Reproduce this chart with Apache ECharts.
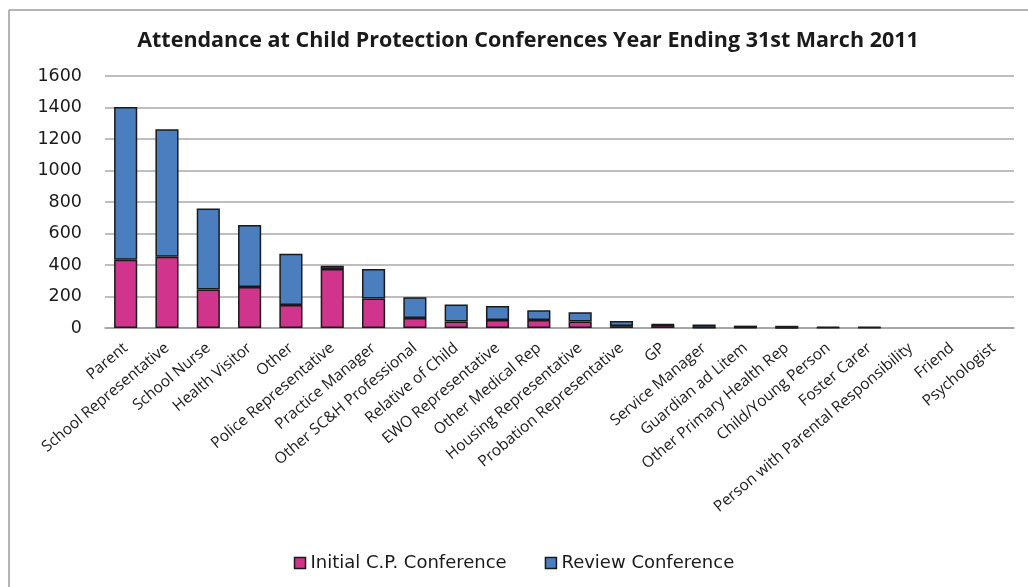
<!DOCTYPE html>
<html>
<head>
<meta charset="utf-8">
<script src="https://cdn.jsdelivr.net/npm/echarts@6/dist/echarts.min.js"></script>
<style>
  html, body { margin: 0; padding: 0; background: #fff; }
  #chart { width: 1028px; height: 587px; }
</style>
</head>
<body>
<div id="chart"></div>
<script>
// Attendee roles, ordered by total attendance
const categories = [
  'Parent', 'School Representative', 'School Nurse', 'Health Visitor', 'Other',
  'Police Representative', 'Practice Manager', 'Other SC&H Professional',
  'Relative of Child', 'EWO Representative', 'Other Medical Rep',
  'Housing Representative', 'Probation Representative', 'GP', 'Service Manager',
  'Guardian ad Litem', 'Other Primary Health Rep', 'Child/Young Person',
  'Foster Carer', 'Person with Parental Responsibility', 'Friend', 'Psychologist'
];

// Attendance at initial child protection conferences
const initialConference = [434, 453, 244, 260, 146, 375, 187, 63, 41, 51, 51, 41, 12, 20, 2, 2, 1, 2, 2, 0, 0, 0];

// Attendance at review conferences
const reviewConference = [969, 809, 514, 394, 326, 21, 188, 132, 108, 89, 61, 59, 32, 3, 20, 13, 13, 6, 4, 0, 0, 0];

const yTicks = { min: 0, max: 1600, interval: 200 };

const chart = echarts.init(document.getElementById('chart'), null, { renderer: 'canvas' });

const edge = '#1a1a1a';

// Empty segments get no outline so nothing is drawn for them
function withOutline(values) {
  return values.map(v => v === 0 ? { value: 0, itemStyle: { borderWidth: 0 } } : v);
}

chart.setOption({
  animation: false,
  backgroundColor: '#ffffff',
  title: {
    text: 'Attendance at Child Protection Conferences Year Ending 31st March 2011',
    left: 523,
    textAlign: 'center',
    top: 25,
    textStyle: { fontFamily: 'Open Sans', fontWeight: 'bold', fontSize: 21.5, color: '#1a1a1a' }
  },
  legend: {
    bottom: 10,
    left: 'center',
    itemGap: 38,
    itemWidth: 11,
    itemHeight: 11,
    icon: 'rect',
    textStyle: { fontFamily: 'DejaVu Sans', fontSize: 18, color: '#1a1a1a' },
    data: [
      { name: 'Initial C.P. Conference', itemStyle: { borderColor: edge, borderWidth: 1.5 } },
      { name: 'Review Conference', itemStyle: { borderColor: edge, borderWidth: 1.5 } }
    ]
  },
  grid: { left: 105, right: 14, top: 76, bottom: 259, containLabel: false },
  xAxis: {
    type: 'category',
    data: categories,
    axisLine: { lineStyle: { color: '#a0a0a0', width: 1.5 } },
    axisTick: { show: false },
    axisLabel: {
      rotate: 40,
      interval: 0,
      margin: 18,
      fontFamily: 'Open Sans',
      fontSize: 15.5,
      color: '#1a1a1a'
    }
  },
  yAxis: {
    type: 'value',
    min: yTicks.min,
    max: yTicks.max,
    interval: yTicks.interval,
    axisLine: { show: false },
    axisTick: { show: false },
    axisLabel: {
      margin: 23,
      fontFamily: 'DejaVu Sans',
      fontSize: 17.5,
      color: '#1a1a1a',
      formatter: v => String(v)
    },
    splitLine: { lineStyle: { color: '#a8a8a8', width: 1.5 } }
  },
  series: [
    {
      name: 'Initial C.P. Conference',
      type: 'bar',
      stack: 'attendance',
      data: withOutline(initialConference),
      barCategoryGap: '44%',
      itemStyle: { color: '#d1348c', borderColor: edge, borderWidth: 1.5 }
    },
    {
      name: 'Review Conference',
      type: 'bar',
      stack: 'attendance',
      data: withOutline(reviewConference),
      barCategoryGap: '44%',
      itemStyle: { color: '#4a7ebf', borderColor: edge, borderWidth: 1.5 }
    }
  ],
  graphic: [
    { type: 'line', shape: { x1: 9, y1: 10, x2: 1028, y2: 10 }, style: { stroke: '#9a9a9a', lineWidth: 1.5 } },
    { type: 'line', shape: { x1: 9, y1: 10, x2: 9, y2: 587 }, style: { stroke: '#9a9a9a', lineWidth: 1.5 } }
  ]
});
</script>
</body>
</html>
